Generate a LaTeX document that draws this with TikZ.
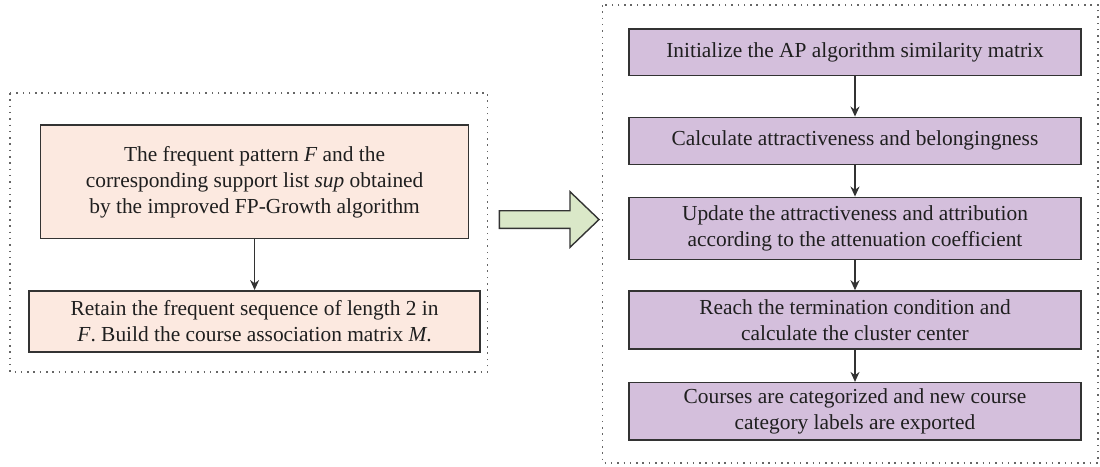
\documentclass[tikz,border=0pt]{standalone}
\usepackage{fontspec}
\setmainfont{Liberation Serif}
\usetikzlibrary{arrows.meta}
\definecolor{pinkfill}{HTML}{FCE9E0}
\definecolor{purplefill}{HTML}{D4BFDC}
\definecolor{greenfill}{HTML}{DAE8C8}
\definecolor{edgegray}{HTML}{333333}
\tikzset{
  box/.style={draw=edgegray, line width=1.5pt, align=center, inner sep=0pt,
    font=\fontsize{21.4}{26}\selectfont, text=black!88},
  pinkbox/.style={box, fill=pinkfill},
  purplebox/.style={box, fill=purplefill},
  frame/.style={draw=black!60, line width=1.5pt, dash pattern=on 1.5pt off 4.8pt},
  flow/.style={draw=edgegray, line width=1.4pt, -{Stealth[length=10pt,width=9pt]}},
}
\begin{document}
\begin{tikzpicture}[x=1pt,y=-1pt]
\useasboundingbox (0,0) rectangle (1100,466);
% frames
\draw[frame] (10,93) rectangle (487.7,372);
\draw[frame] (602.7,5) rectangle (1098,463);
% left boxes
\node[pinkbox, minimum width=428pt, minimum height=113.7pt] (l1) at (254.6,181.8)
  {The frequent pattern \textit{F} and the\\corresponding support list \textit{sup} obtained\\by the improved FP-Growth algorithm};
\node[pinkbox, minimum width=451pt, minimum height=61.3pt] (l2) at (254.6,321.4)
  {Retain the frequent sequence of length 2 in\\\textit{F}. Build the course association matrix \textit{M}.};
\draw[flow] (l1.south) -- (l2.north);
% right boxes
\node[purplebox, minimum width=452pt, minimum height=46.3pt] (r1) at (855,52.2)
  {Initialize the AP algorithm similarity matrix};
\node[purplebox, minimum width=452pt, minimum height=47pt] (r2) at (855,140.8)
  {Calculate attractiveness and belongingness};
\node[purplebox, minimum width=452pt, minimum height=62pt] (r3) at (855,228.3)
  {Update the attractiveness and attribution\\according to the attenuation coefficient};
\node[purplebox, minimum width=452pt, minimum height=58pt] (r4) at (855,320)
  {Reach the termination condition and\\calculate the cluster center};
\node[purplebox, minimum width=452pt, minimum height=57.3pt] (r5) at (855,411.3)
  {Courses are categorized and new course\\category labels are exported};
\draw[flow] (r1.south) -- (r2.north);
\draw[flow] (r2.south) -- (r3.north);
\draw[flow] (r3.south) -- (r4.north);
\draw[flow] (r4.south) -- (r5.north);
% big arrow
\draw[draw=edgegray, line width=1.4pt, fill=greenfill, line join=miter]
  (499.3,210.7) -- (570,210.7) -- (570,191.7) -- (599,219.5) -- (570,247.3)
  -- (570,228.3) -- (499.3,228.3) -- cycle;
\end{tikzpicture}
\end{document}
